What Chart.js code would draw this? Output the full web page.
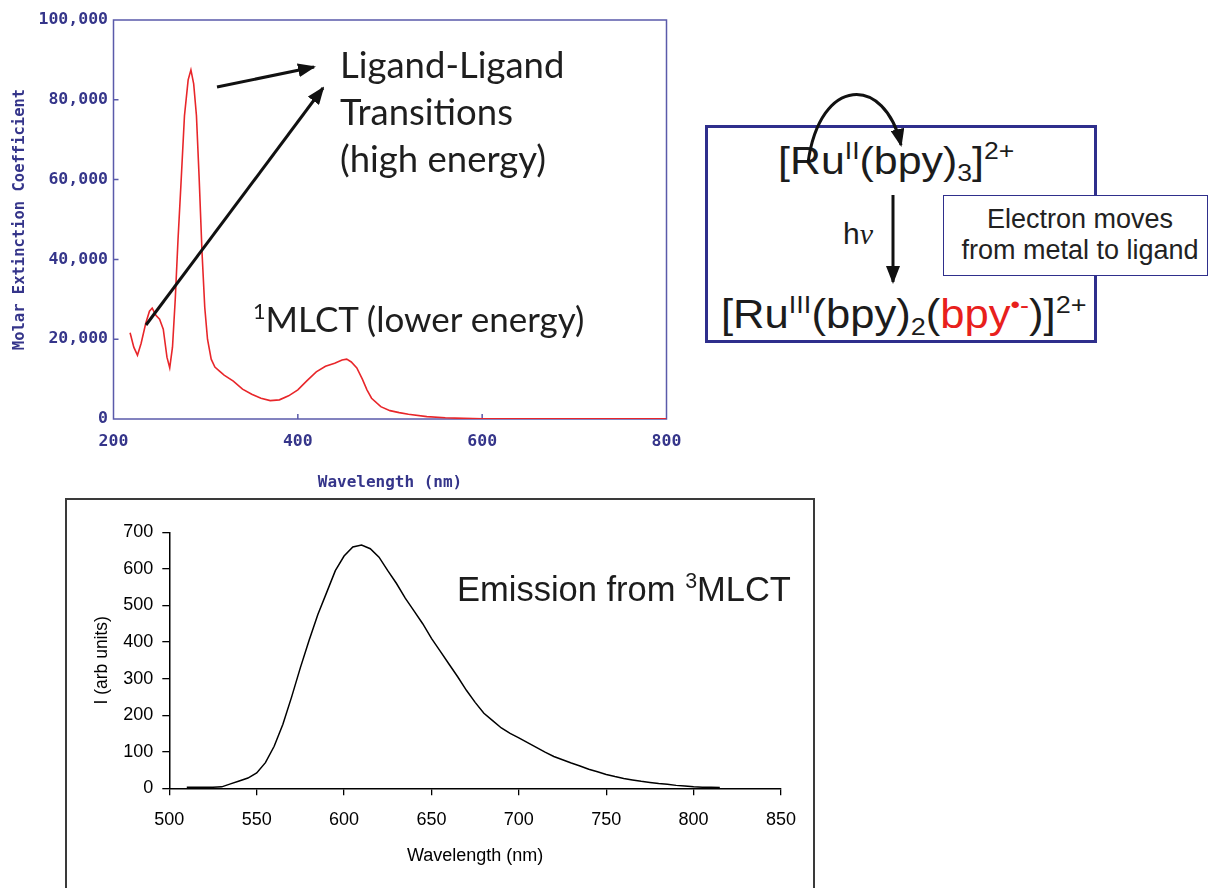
<!DOCTYPE html>
<html>
<head>
<meta charset="utf-8">
<script src="https://cdn.jsdelivr.net/npm/chart.js@4.4.1/dist/chart.umd.min.js"></script>
<style>
  body { margin: 0; width: 1209px; height: 888px; overflow: hidden; position: relative; background: #fff;
         font-family: "Liberation Sans", Arial, sans-serif; color: #1c1c1c; }
  .abs { position: absolute; white-space: nowrap; }
  #absChart { position: absolute; left: 0; top: 0; }
  #emFrame { position: absolute; left: 65px; top: 498px; width: 746px; height: 420px; border: 2px solid #3a3a3a; }
  #emChart { position: absolute; left: 66px; top: 500px; }
  .cal { font-family: Lato, "Open Sans", sans-serif; font-size: 36.5px; line-height: 47px; color: #1e1e1e; }
  .sup { font-size: 0.62em; position: relative; top: -0.62em; }
  .sub { font-size: 0.62em; position: relative; top: 0.28em; }
  .red { color: #e8201c; }
  .wide { transform-origin: 0 0; }
  #mechBox { position: absolute; left: 705px; top: 125px; width: 386px; height: 212px; border: 3px solid #2f2f8c; }
  #noteBox { position: absolute; left: 943px; top: 195px; width: 265px; height: 81px; border: 1px solid #2f2f8c;
             background: #fff; box-sizing: border-box; }
  #arrows { position: absolute; left: 0; top: 0; pointer-events: none; }
</style>
</head>
<body>
<canvas id="absChart" width="700" height="500"></canvas>
<div id="emFrame"></div>
<canvas id="emChart" width="745" height="388"></canvas>

<!-- absorption annotations -->
<div class="abs cal" style="left:340px;top:41px;">Ligand-Ligand<br>Transitions<br>(high energy)</div>
<div class="abs cal" style="left:253px;top:295px;font-size:35px;"><span class="sup">1</span>MLCT (lower energy)</div>

<!-- emission annotation -->
<div class="abs" style="left:457px;top:569px;font-size:34.5px;line-height:40px;">Emission from <span class="sup">3</span>MLCT</div>

<!-- MLCT scheme -->
<div id="mechBox"></div>
<div class="abs wide" style="left:778px;top:141px;font-size:39px;line-height:39px;transform:scaleX(1.1);">[Ru<span class="sup">II</span>(bpy)<span class="sub">3</span>]<span class="sup">2+</span></div>
<div class="abs" style="left:843px;top:219px;font-size:30px;line-height:30px;">h<i style="font-family:'Liberation Serif',serif;">ν</i></div>
<div class="abs wide" style="left:721px;top:294px;font-size:40px;line-height:40px;transform:scaleX(1.09);">[Ru<span class="sup">III</span>(bpy)<span class="sub">2</span>(<span class="red">bpy<span class="sup">•-</span></span>)]<span class="sup">2+</span></div>
<div id="noteBox"></div>
<div class="abs" style="left:940px;top:204px;width:280px;text-align:center;font-size:27px;line-height:31px;color:#222;">Electron moves<br>from metal to ligand</div>

<svg id="arrows" width="1209" height="888">
  <defs>
    <marker id="head" markerUnits="userSpaceOnUse" markerWidth="18" markerHeight="14" refX="16" refY="7" orient="auto">
      <path d="M0,0 L18,7 L0,14 z" fill="#111"/>
    </marker>
  </defs>
  <g stroke="#111" stroke-width="3" fill="none" marker-end="url(#head)">
    <line x1="217" y1="87" x2="314" y2="67"/>
    <line x1="146" y1="325" x2="323" y2="88"/>
    <path d="M808,163 C820,75 885,75 901,145"/>
    <line x1="893" y1="195" x2="893" y2="282"/>
  </g>
</svg>

<script>
// absorption spectrum of [Ru(bpy)3]2+
const absWavelength = [218, 222, 226, 230, 235, 239, 242, 246, 250, 254, 258, 261, 264, 267, 270, 273, 277, 281, 284, 287,
  290, 293, 296, 299, 302, 306, 310, 315, 320, 330, 340, 350, 360, 370, 380, 390, 400, 410, 420, 430,
  440, 448, 453, 458, 464, 470, 475, 480, 490, 500, 510, 520, 540, 560, 580, 600, 650, 700, 750, 800];
const absCoefficient = [21600, 18000, 16000, 19000, 24000, 27000, 27800, 26000, 25000, 22500, 15500, 12800, 18000, 30000, 45000, 58000, 76000, 85000, 87500, 84000,
  76000, 60000, 42000, 28000, 20000, 15000, 13000, 12000, 11000, 9500, 7500, 6200, 5200, 4600, 4800, 5800, 7300, 9600, 11800, 13200,
  14000, 14800, 15000, 14300, 12800, 10000, 7300, 5200, 3100, 2100, 1600, 1200, 600, 300, 150, 80, 30, 20, 40, 30];
const absXTicks = [200, 400, 600, 800];
const absYTicks = [0, 20000, 40000, 60000, 80000, 100000];

// emission spectrum from the 3MLCT state
const emWavelength = [510, 515, 520, 525, 530, 535, 540, 545, 550, 555, 560, 565, 570, 575, 580, 585, 590, 595, 600, 605,
  610, 615, 620, 625, 630, 635, 640, 645, 650, 655, 660, 665, 670, 675, 680, 685, 690, 695, 700, 705,
  710, 715, 720, 725, 730, 735, 740, 745, 750, 755, 760, 765, 770, 775, 780, 785, 790, 795, 800, 805, 810, 815];
const emIntensity = [3, 3, 3, 3, 4, 12, 20, 28, 42, 70, 115, 175, 250, 330, 405, 475, 535, 595, 635, 660,
  665, 655, 632, 595, 560, 520, 485, 450, 410, 375, 340, 305, 268, 235, 205, 185, 165, 150, 138, 125,
  112, 99, 87, 78, 69, 61, 52, 45, 38, 32, 27, 23, 19, 16, 13, 11, 8, 6, 4, 3, 3, 2];
const emXTicks = [500, 550, 600, 650, 700, 750, 800, 850];
const emYTicks = [0, 100, 200, 300, 400, 500, 600, 700];

const monoBlue = '#35358a';
const monoFont = '"DejaVu Sans Mono", monospace';

// plot box and inward ticks of the spectrophotometer plot
const spectroFrame = {
  id: 'spectroFrame',
  beforeDatasetsDraw(chart) {
    const { ctx, chartArea: a, scales: { x, y } } = chart;
    ctx.save();
    ctx.strokeStyle = '#5a5aaa';
    ctx.lineWidth = 1.5;
    ctx.strokeRect(a.left, a.top, a.right - a.left, a.bottom - a.top);
    ctx.beginPath();
    absXTicks.slice(1, -1).forEach(v => {
      const px = x.getPixelForValue(v);
      ctx.moveTo(px, a.bottom); ctx.lineTo(px, a.bottom - 5);
    });
    absYTicks.slice(1, -1).forEach(v => {
      const py = y.getPixelForValue(v);
      ctx.moveTo(a.left, py); ctx.lineTo(a.left + 5, py);
    });
    ctx.stroke();
    ctx.restore();
  }
};

new Chart(document.getElementById('absChart'), {
  type: 'line',
  data: {
    datasets: [{
      data: absWavelength.map((w, i) => ({ x: w, y: absCoefficient[i] })),
      borderColor: '#e8262a',
      borderWidth: 1.6,
      pointRadius: 0,
      tension: 0
    }]
  },
  options: {
    responsive: false,
    animation: false,
    events: [],
    layout: { padding: { top: 20, right: 33.5, left: 0, bottom: 0 } },
    plugins: { legend: { display: false }, tooltip: { enabled: false } },
    scales: {
      x: {
        type: 'linear', min: 200, max: 800,
        afterBuildTicks: s => { s.ticks = absXTicks.map(v => ({ value: v })); },
        afterFit: s => { s.height = 81; },
        grid: { display: false, drawTicks: false },
        border: { display: false },
        ticks: { padding: 12.4, color: monoBlue, maxRotation: 0, autoSkip: false,
                 font: { family: monoFont, size: 16.5, weight: '600' } },
        title: { display: true, text: 'Wavelength (nm)', color: monoBlue, font: { family: monoFont, size: 16, weight: '600' },
                 padding: { top: 0, bottom: 7.4 } }
      },
      y: {
        min: 0, max: 100000,
        afterBuildTicks: s => { s.ticks = absYTicks.map(v => ({ value: v })); },
        afterFit: s => { s.width = 113.5; },
        grid: { display: false, drawTicks: false },
        border: { display: false },
        ticks: { padding: 5.5, color: monoBlue, autoSkip: false, font: { family: monoFont, size: 16.5, weight: '600' },
                 callback: v => v.toLocaleString('en-US') },
        title: { display: true, text: 'Molar Extinction Coefficient', color: monoBlue,
                 font: { family: monoFont, size: 15.5, weight: '600' }, padding: { top: 11, bottom: 0 } }
      }
    }
  },
  plugins: [spectroFrame]
});

const sans = '"Liberation Sans", Arial, sans-serif';

new Chart(document.getElementById('emChart'), {
  type: 'line',
  data: {
    datasets: [{
      data: emWavelength.map((w, i) => ({ x: w, y: emIntensity[i] })),
      borderColor: '#000',
      borderWidth: 1.5,
      pointRadius: 0,
      tension: 0
    }]
  },
  options: {
    responsive: false,
    animation: false,
    events: [],
    layout: { padding: { top: 32.3, right: 30, left: 0, bottom: 0 } },
    plugins: { legend: { display: false }, tooltip: { enabled: false } },
    scales: {
      x: {
        type: 'linear', min: 500, max: 850,
        afterBuildTicks: s => { s.ticks = emXTicks.map(v => ({ value: v })); },
        afterFit: s => { s.height = 99.7; },
        grid: { drawOnChartArea: false, drawTicks: true, tickLength: 7, color: '#000', lineWidth: 1.3 },
        border: { color: '#000', width: 1.5 },
        ticks: { padding: 13.5, color: '#000', maxRotation: 0, autoSkip: false, font: { family: sans, size: 18 } },
        title: { display: true, text: 'Wavelength (nm)', color: '#000', font: { family: sans, size: 18 },
                 padding: { top: 0, bottom: 21.2 } }
      },
      y: {
        min: 0, max: 700,
        afterBuildTicks: s => { s.ticks = emYTicks.map(v => ({ value: v })); },
        afterFit: s => { s.width = 103.3; },
        grid: { drawOnChartArea: false, drawTicks: true, tickLength: 7, color: '#000', lineWidth: 1.3 },
        border: { color: '#000', width: 1.5 },
        ticks: { padding: 9, color: '#000', autoSkip: false, font: { family: sans, size: 18 } },
        title: { display: true, text: 'I (arb units)', color: '#000', font: { family: sans, size: 17.5 },
                 padding: { top: 25.5, bottom: 0 } }
      }
    }
  }
});
</script>
</body>
</html>
